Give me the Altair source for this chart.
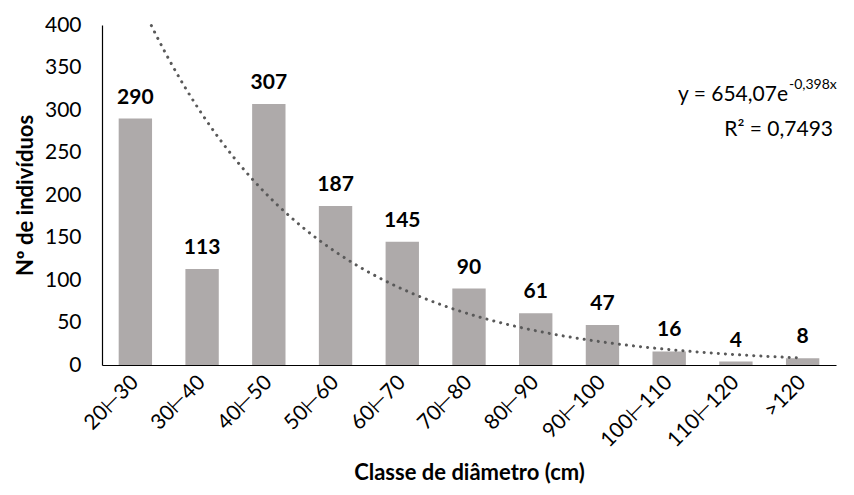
import altair as alt
import pandas as pd

classes = ["20⊢30", "30⊢40", "40⊢50", "50⊢60", "60⊢70", "70⊢80",
           "80⊢90", "90⊢100", "100⊢110", "110⊢120", ">120"]
counts = [290, 113, 307, 187, 145, 90, 61, 47, 16, 4, 8]
y_ticks = [0, 50, 100, 150, 200, 250, 300, 350, 400]
trend_a = 654.07
trend_b = -0.398
eq_main = "y = 654,07e"
eq_exp = "-0,398x"
r2_text = "R² = 0,7493"

FONT = "Lato"
W, H = 734, 340

df = pd.DataFrame({"classe": classes, "n": counts})

y_scale = alt.Scale(domain=[0, 400], nice=False)
band = alt.Scale(paddingInner=0.5, paddingOuter=0.25)

bars = alt.Chart(df).mark_bar(color="#AEAAAA").encode(
    x=alt.X("classe:N", sort=classes, scale=band,
            axis=alt.Axis(title="Classe de diâmetro (cm)", labelAngle=-45,
                          labelAlign="right", labelBaseline="middle",
                          labelPadding=14, titlePadding=12)),
    y=alt.Y("n:Q", scale=y_scale,
            axis=alt.Axis(title="Nº de indivíduos", values=y_ticks,
                          labelPadding=21, titlePadding=7)),
)

labels = alt.Chart(df).mark_text(
    font=FONT, fontSize=21, fontWeight="bold", color="#000000",
    baseline="bottom", dy=-11
).encode(
    x=alt.X("classe:N", sort=classes, scale=band, axis=None),
    y=alt.Y("n:Q", scale=y_scale),
    text="n:Q",
)

n_cls = len(classes)
trend = alt.Chart(alt.sequence(1, n_cls + 0.001, 0.02, as_="xi")).transform_calculate(
    yv=f"{trend_a} * exp({trend_b} * datum.xi)"
).transform_filter("datum.yv <= 400").mark_line(
    color="#595959", strokeWidth=3, strokeDash=[0.1, 7], strokeCap="round"
).encode(
    x=alt.X("xi:Q", scale=alt.Scale(domain=[0.5, n_cls + 0.5], nice=False, zero=False), axis=None),
    y=alt.Y("yv:Q", scale=y_scale),
)

ann = pd.DataFrame({"t": [eq_main]})
eq1 = alt.Chart(ann).mark_text(font=FONT, fontSize=21, align="right", baseline="alphabetic",
                               color="#000000").encode(
    x=alt.value(686), y=alt.value(76), text=alt.value(eq_main))
eq2 = alt.Chart(ann).mark_text(font=FONT, fontSize=14, align="left", baseline="alphabetic",
                               color="#000000").encode(
    x=alt.value(687), y=alt.value(64), text=alt.value(eq_exp))
eq3 = alt.Chart(ann).mark_text(font=FONT, fontSize=21, align="right", baseline="alphabetic",
                               color="#000000").encode(
    x=alt.value(731), y=alt.value(111), text=alt.value(r2_text))

chart = alt.layer(bars, labels, trend, eq1, eq2, eq3).resolve_scale(
    x="independent"
).properties(
    width=W, height=H,
    autosize=alt.AutoSizeParams(type="none"),
    padding={"left": 94, "top": 17, "right": 5, "bottom": 122},
).configure_view(stroke=None).configure_axis(
    grid=False, ticks=False, domainColor="#000000", domainWidth=1.2,
    labelFont=FONT, labelFontSize=21, labelColor="#000000",
    titleFont=FONT, titleFontSize=22, titleFontWeight="bold", titleColor="#000000",
)

chart.save("out.html", embed_options={"renderer": "svg", "actions": False})
